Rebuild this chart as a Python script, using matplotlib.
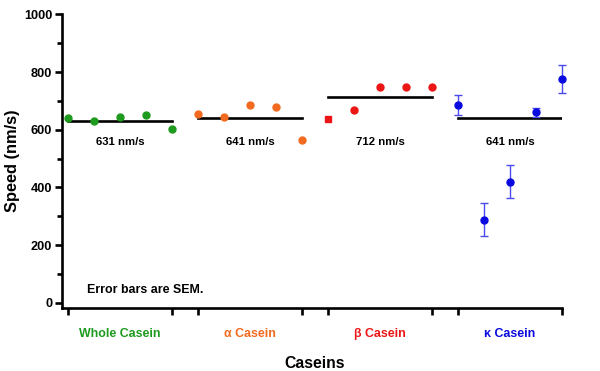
import numpy as np
import matplotlib.pyplot as plt

plt.rcParams['font.family'] = ['Liberation Sans', 'DejaVu Sans']

# === Datos ===
grupos = ["Whole Casein", "α Casein", "β Casein", "κ Casein"]
colores = ["#1e9a1e", "#f26a1f", "#ec1515", "#0a0ae0"]
whole = [639, 630, 643, 650, 601]
alfa = [655, 644, 684, 678, 564]
beta = [636, 667, 748, 748, 749]
kappa = [687, 288, 420, 661, 776]
kappa_sem = [35, 58, 56, 16, 49]
medias = [631, 641, 712, 641]
etiquetas_media = ["631 nm/s", "641 nm/s", "712 nm/s", "641 nm/s"]

valores = [whole, alfa, beta, kappa]

fig = plt.figure(figsize=(6, 3.71), dpi=100)
ax = fig.add_axes([0.1033, 0.1698, 0.8333, 0.7916])

for g, (vals, col) in enumerate(zip(valores, colores)):
    x = np.arange(5) + 5 * g
    if g == 3:
        ax.errorbar(x, vals, yerr=kappa_sem, fmt='o', color=col, ecolor="#4a4af0",
                    elinewidth=1.0, capsize=3, capthick=1.0, markersize=5,
                    zorder=3, clip_on=False)
    elif g == 2:
        ax.plot(x[:1], vals[:1], 's', color=col, markersize=4.6, zorder=3)
        ax.plot(x[1:], vals[1:], 'o', color=col, markersize=5, zorder=3)
    else:
        ax.plot(x, vals, 'o', color=col, markersize=5, zorder=3)
    # linea de la media
    ax.plot([x[0], x[-1]], [medias[g], medias[g]], color='black', lw=1.9, zorder=2)
    ax.text(x[2], 556, etiquetas_media[g], ha='center', va='center',
            fontsize=8.2, fontweight='bold')

ax.set_xlim(-0.23, 19)
ax.set_ylim(-18, 1000)

ax.spines['top'].set_visible(False)
ax.spines['right'].set_visible(False)
for s in ['left', 'bottom']:
    ax.spines[s].set_linewidth(1.9)

ax.set_xticks([0, 4, 5, 9, 10, 14, 15, 19])
ax.set_xticklabels([])
ax.tick_params(axis='x', direction='out', length=5, width=1.9)
ax.set_yticks(range(0, 1001, 200))
ax.set_yticks(range(100, 1000, 200), minor=True)
ax.tick_params(axis='y', which='major', direction='out', length=5, width=1.9,
               labelsize=9.2, pad=2)
ax.tick_params(axis='y', which='minor', direction='out', length=3.5, width=1.9)
for lab in ax.get_yticklabels():
    lab.set_fontweight('bold')

ax.set_ylabel("Speed (nm/s)", fontsize=11.8, fontweight='bold', labelpad=3)

# etiquetas de grupo
for g, (nombre, col) in enumerate(zip(grupos, colores)):
    ax.text(5 * g + 2, -108, nombre, color=col, ha='center', va='center',
            fontsize=8.9, fontweight='bold')

ax.text(9.5, -212, "Caseins", ha='center', va='center', fontsize=11.3,
        fontweight='bold', clip_on=False)
ax.text(0.75, 46, "Error bars are SEM.", ha='left', va='center', fontsize=8.9,
        fontweight='bold')

fig.savefig("out.png", dpi=100)
